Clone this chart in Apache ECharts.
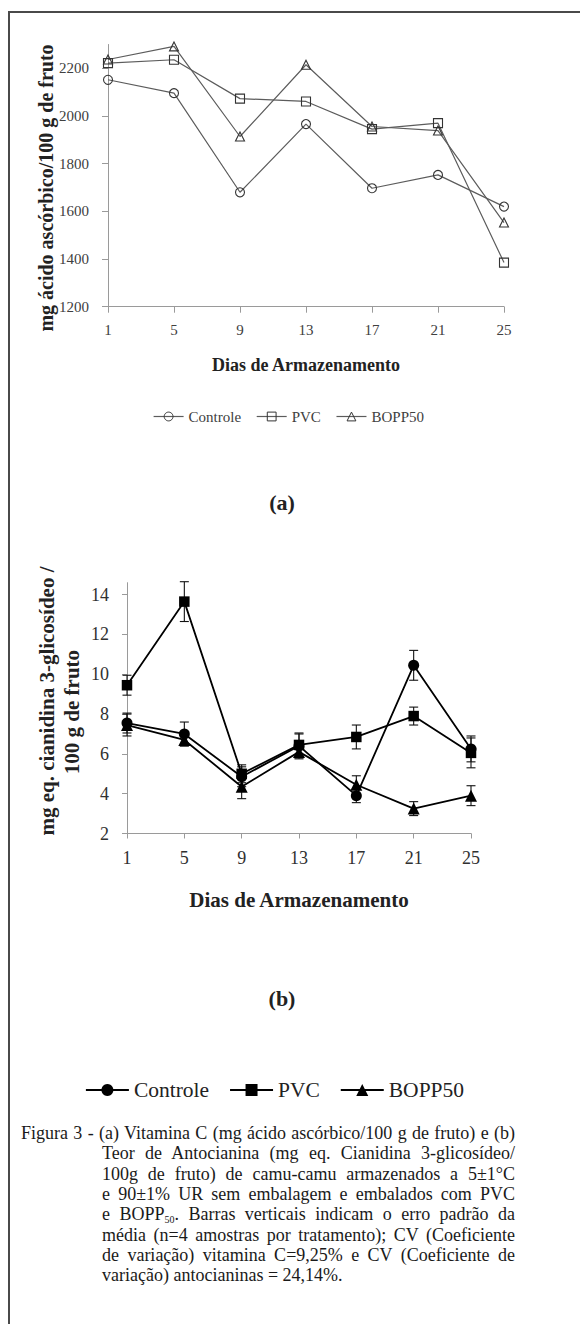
<!DOCTYPE html>
<html>
<head>
<meta charset="utf-8">
<script src="https://cdn.jsdelivr.net/npm/echarts@6/dist/echarts.min.js"></script>
<style>
html,body{margin:0;padding:0;background:#fff;width:580px;height:1324px;overflow:hidden}
#chart{position:absolute;left:0;top:0;width:580px;height:1324px}
#frameL{position:absolute;left:8px;top:11px;width:2px;height:1313px;background:#4a4a4a}
#frameT{position:absolute;left:8px;top:11px;width:572px;height:2px;background:#4a4a4a}
#caption{position:absolute;left:0;top:1123px;width:580px;font-family:'Liberation Serif','Times New Roman',serif;font-size:18px;line-height:20.3px;color:#1a1a1a}
.ln{position:absolute;text-align:justify;text-align-last:justify;height:20px;overflow:visible}
.ln.last{text-align-last:left}
sub{font-size:10px;line-height:0;vertical-align:-3px}
</style>
</head>
<body>
<div id="chart"></div>
<div id="frameL"></div>
<div id="frameT"></div>
<div id="caption">
  <div class="ln" style="left:21px;top:0;width:494px">Figura 3 - (a) Vitamina C (mg ácido ascórbico/100 g de fruto) e (b)</div>
  <div class="ln" style="left:102px;top:20.3px;width:413px">Teor de Antocianina (mg eq. Cianidina 3-glicosídeo/</div>
  <div class="ln" style="left:102px;top:40.6px;width:413px">100g de fruto) de camu-camu armazenados a 5±1°C</div>
  <div class="ln" style="left:102px;top:60.9px;width:413px">e 90±1% UR sem embalagem e embalados com PVC</div>
  <div class="ln" style="left:102px;top:81.2px;width:413px">e BOPP<sub>50</sub>. Barras verticais indicam o erro padrão da</div>
  <div class="ln" style="left:102px;top:101.5px;width:413px">média (n=4 amostras por tratamento); CV (Coeficiente</div>
  <div class="ln" style="left:102px;top:121.8px;width:413px">de variação) vitamina C=9,25% e CV (Coeficiente de</div>
  <div class="ln last" style="left:102px;top:142.1px;width:413px">variação) antocianinas = 24,14%.</div>
</div>
<script>
// ---- data ----
const days = ['1', '5', '9', '13', '17', '21', '25'];
const seriesNames = ['Controle', 'PVC', 'BOPP50'];

// (a) Vitamina C (mg ácido ascórbico/100 g de fruto)
const vitCControle = [2152, 2096, 1680, 1966, 1697, 1753, 1620];
const vitCPVC      = [2222, 2236, 2073, 2061, 1945, 1970, 1385];
const vitCBOPP50   = [2237, 2292, 1914, 2215, 1956, 1939, 1553];
const vitCTicks    = [1200, 1400, 1600, 1800, 2000, 2200];

// (b) Antocianina (mg eq. cianidina 3-glicosídeo/100 g de fruto)
const antoControle = [7.55, 7.0, 4.85, 6.4, 3.9, 10.45, 6.25];
const antoPVC      = [9.45, 13.65, 5.0, 6.45, 6.85, 7.9, 6.05];
const antoBOPP50   = [7.45, 6.7, 4.35, 6.1, 4.45, 3.25, 3.9];
const errControle  = [0.5, 0.6, 0.5, 0.6, 0.35, 0.75, 0.65];
const errPVC       = [0.5, 1.0, 0.45, 0.6, 0.6, 0.45, 0.75];
const errBOPP50    = [0.55, 0.3, 0.6, 0.35, 0.45, 0.35, 0.5];
const antoTicks    = [2, 4, 6, 8, 10, 12, 14];

// ---- chart ----
const serif = "'Liberation Serif', 'Times New Roman', serif";
const chart = echarts.init(document.getElementById('chart'), null, {renderer: 'svg'});

function errRender(params, api) {
  const x = api.value(0), m = api.value(1), e = api.value(2);
  const top = api.coord([x, m + e]);
  const bot = api.coord([x, m - e]);
  const hw = 4.5;
  const st = {stroke: '#111', lineWidth: 1.1};
  return {
    type: 'group',
    children: [
      {type: 'line', shape: {x1: top[0], y1: top[1], x2: bot[0], y2: bot[1]}, style: st},
      {type: 'line', shape: {x1: top[0] - hw, y1: top[1], x2: top[0] + hw, y2: top[1]}, style: st},
      {type: 'line', shape: {x1: bot[0] - hw, y1: bot[1], x2: bot[0] + hw, y2: bot[1]}, style: st}
    ]
  };
}
function errData(mean, err) { return mean.map((v, i) => [i, v, err[i]]); }
const plain = v => String(v);

const axisGray = '#9a9a9a';
const symA = ['circle', 'rect', 'triangle'];
const sizeA = [9, 9, 9];
const sizeB = [11, 10.5, 12];
const dataA = [vitCControle, vitCPVC, vitCBOPP50];
const dataB = [antoControle, antoPVC, antoBOPP50];
const errB = [errControle, errPVC, errBOPP50];

const series = [];
seriesNames.forEach((n, k) => {
  series.push({
    type: 'line', name: n, xAxisIndex: 0, yAxisIndex: 0, data: dataA[k],
    symbol: symA[k], symbolSize: sizeA[k], z: 3,
    lineStyle: {color: '#5c5c5c', width: 1.2},
    itemStyle: {color: 'rgba(255,255,255,0)', borderColor: '#333', borderWidth: 1.1}
  });
});
seriesNames.forEach((n, k) => {
  series.push({
    type: 'custom', xAxisIndex: 1, yAxisIndex: 1, renderItem: errRender,
    data: errData(dataB[k], errB[k]), encode: {x: 0, y: 1}, z: 1, silent: true
  });
});
seriesNames.forEach((n, k) => {
  series.push({
    type: 'line', name: n, xAxisIndex: 1, yAxisIndex: 1, data: dataB[k],
    symbol: symA[k], symbolSize: sizeB[k], z: 3,
    lineStyle: {color: '#000', width: 1.8},
    itemStyle: {color: '#000', borderColor: '#000', borderWidth: 0}
  });
});

const option = {
  animation: false,
  backgroundColor: '#fff',
  textStyle: {fontFamily: serif},
  grid: [
    {left: 108, right: 76, top: 44.5, height: 262.2},
    {left: 127, right: 109, top: 582.7, height: 250.8}
  ],
  xAxis: [
    {
      gridIndex: 0, type: 'category', data: days, boundaryGap: false,
      axisLine: {show: true, lineStyle: {color: axisGray, width: 1}},
      axisTick: {show: true, alignWithLabel: true, length: 6, lineStyle: {color: axisGray}},
      axisLabel: {fontFamily: serif, fontSize: 15, color: '#404040', margin: 16},
      splitLine: {show: false},
      name: 'Dias de Armazenamento', nameLocation: 'middle', nameGap: 49,
      nameTextStyle: {fontFamily: serif, fontWeight: 'bold', fontSize: 18, color: '#222'}
    },
    {
      gridIndex: 1, type: 'category', data: days, boundaryGap: false,
      axisLine: {show: true, lineStyle: {color: axisGray, width: 1}},
      axisTick: {show: true, alignWithLabel: true, length: 5, lineStyle: {color: axisGray}},
      axisLabel: {fontFamily: serif, fontSize: 18, color: '#303030', margin: 15},
      splitLine: {show: false},
      name: 'Dias de Armazenamento', nameLocation: 'middle', nameGap: 56,
      nameTextStyle: {fontFamily: serif, fontWeight: 'bold', fontSize: 21, color: '#222'}
    }
  ],
  yAxis: [
    {
      gridIndex: 0, type: 'value', min: 1200, max: 2300, interval: 200,
      axisLine: {show: true, lineStyle: {color: axisGray, width: 1}},
      axisTick: {show: true, length: 6, lineStyle: {color: axisGray}, customValues: vitCTicks},
      axisLabel: {fontFamily: serif, fontSize: 15, color: '#404040', margin: 19, align: 'right', customValues: vitCTicks, formatter: plain},
      splitLine: {show: false}
    },
    {
      gridIndex: 1, type: 'value', min: 2, max: 14.6, interval: 2,
      axisLine: {show: true, lineStyle: {color: axisGray, width: 1}},
      axisTick: {show: true, length: 5, lineStyle: {color: axisGray}, customValues: antoTicks},
      axisLabel: {fontFamily: serif, fontSize: 18, color: '#303030', margin: 18, align: 'right', customValues: antoTicks, formatter: plain},
      splitLine: {show: false}
    }
  ],
  legend: [
    {
      data: seriesNames, left: 148, top: 404, orient: 'horizontal',
      itemWidth: 30, itemHeight: 11, itemGap: 15, selectedMode: false,
      textStyle: {fontFamily: serif, fontSize: 15, color: '#404040'},
      itemStyle: {borderWidth: 1, borderColor: '#333'},
      lineStyle: {color: '#5c5c5c', width: 1.2}
    },
    {
      data: seriesNames, left: 80, top: 1074, orient: 'horizontal',
      itemWidth: 43, itemHeight: 15, itemGap: 20, selectedMode: false,
      textStyle: {fontFamily: serif, fontSize: 21.5, color: '#222'},
      itemStyle: {color: '#000', borderColor: '#000', borderWidth: 0},
      lineStyle: {color: '#000', width: 1.8}
    }
  ],
  graphic: [
    {type: 'text', x: 46, y: 188, rotation: Math.PI / 2,
     style: {text: 'mg ácido ascórbico/100 g de fruto', fontFamily: serif, fontWeight: 'bold', fontSize: 20, fill: '#222', align: 'center', verticalAlign: 'middle'}},
    {type: 'text', x: 282, y: 502,
     style: {text: '(a)', fontFamily: serif, fontWeight: 'bold', fontSize: 22, fill: '#222', align: 'center', verticalAlign: 'middle'}},
    {type: 'text', x: 47, y: 701, rotation: Math.PI / 2,
     style: {text: 'mg eq. cianidina 3-glicosídeo /', fontFamily: serif, fontWeight: 'bold', fontSize: 21, fill: '#222', align: 'center', verticalAlign: 'middle'}},
    {type: 'text', x: 72, y: 712, rotation: Math.PI / 2,
     style: {text: '100 g de fruto', fontFamily: serif, fontWeight: 'bold', fontSize: 21, fill: '#222', align: 'center', verticalAlign: 'middle'}},
    {type: 'text', x: 282, y: 998,
     style: {text: '(b)', fontFamily: serif, fontWeight: 'bold', fontSize: 22, fill: '#222', align: 'center', verticalAlign: 'middle'}}
  ],
  series: series
};
chart.setOption(option);
</script>
</body>
</html>
